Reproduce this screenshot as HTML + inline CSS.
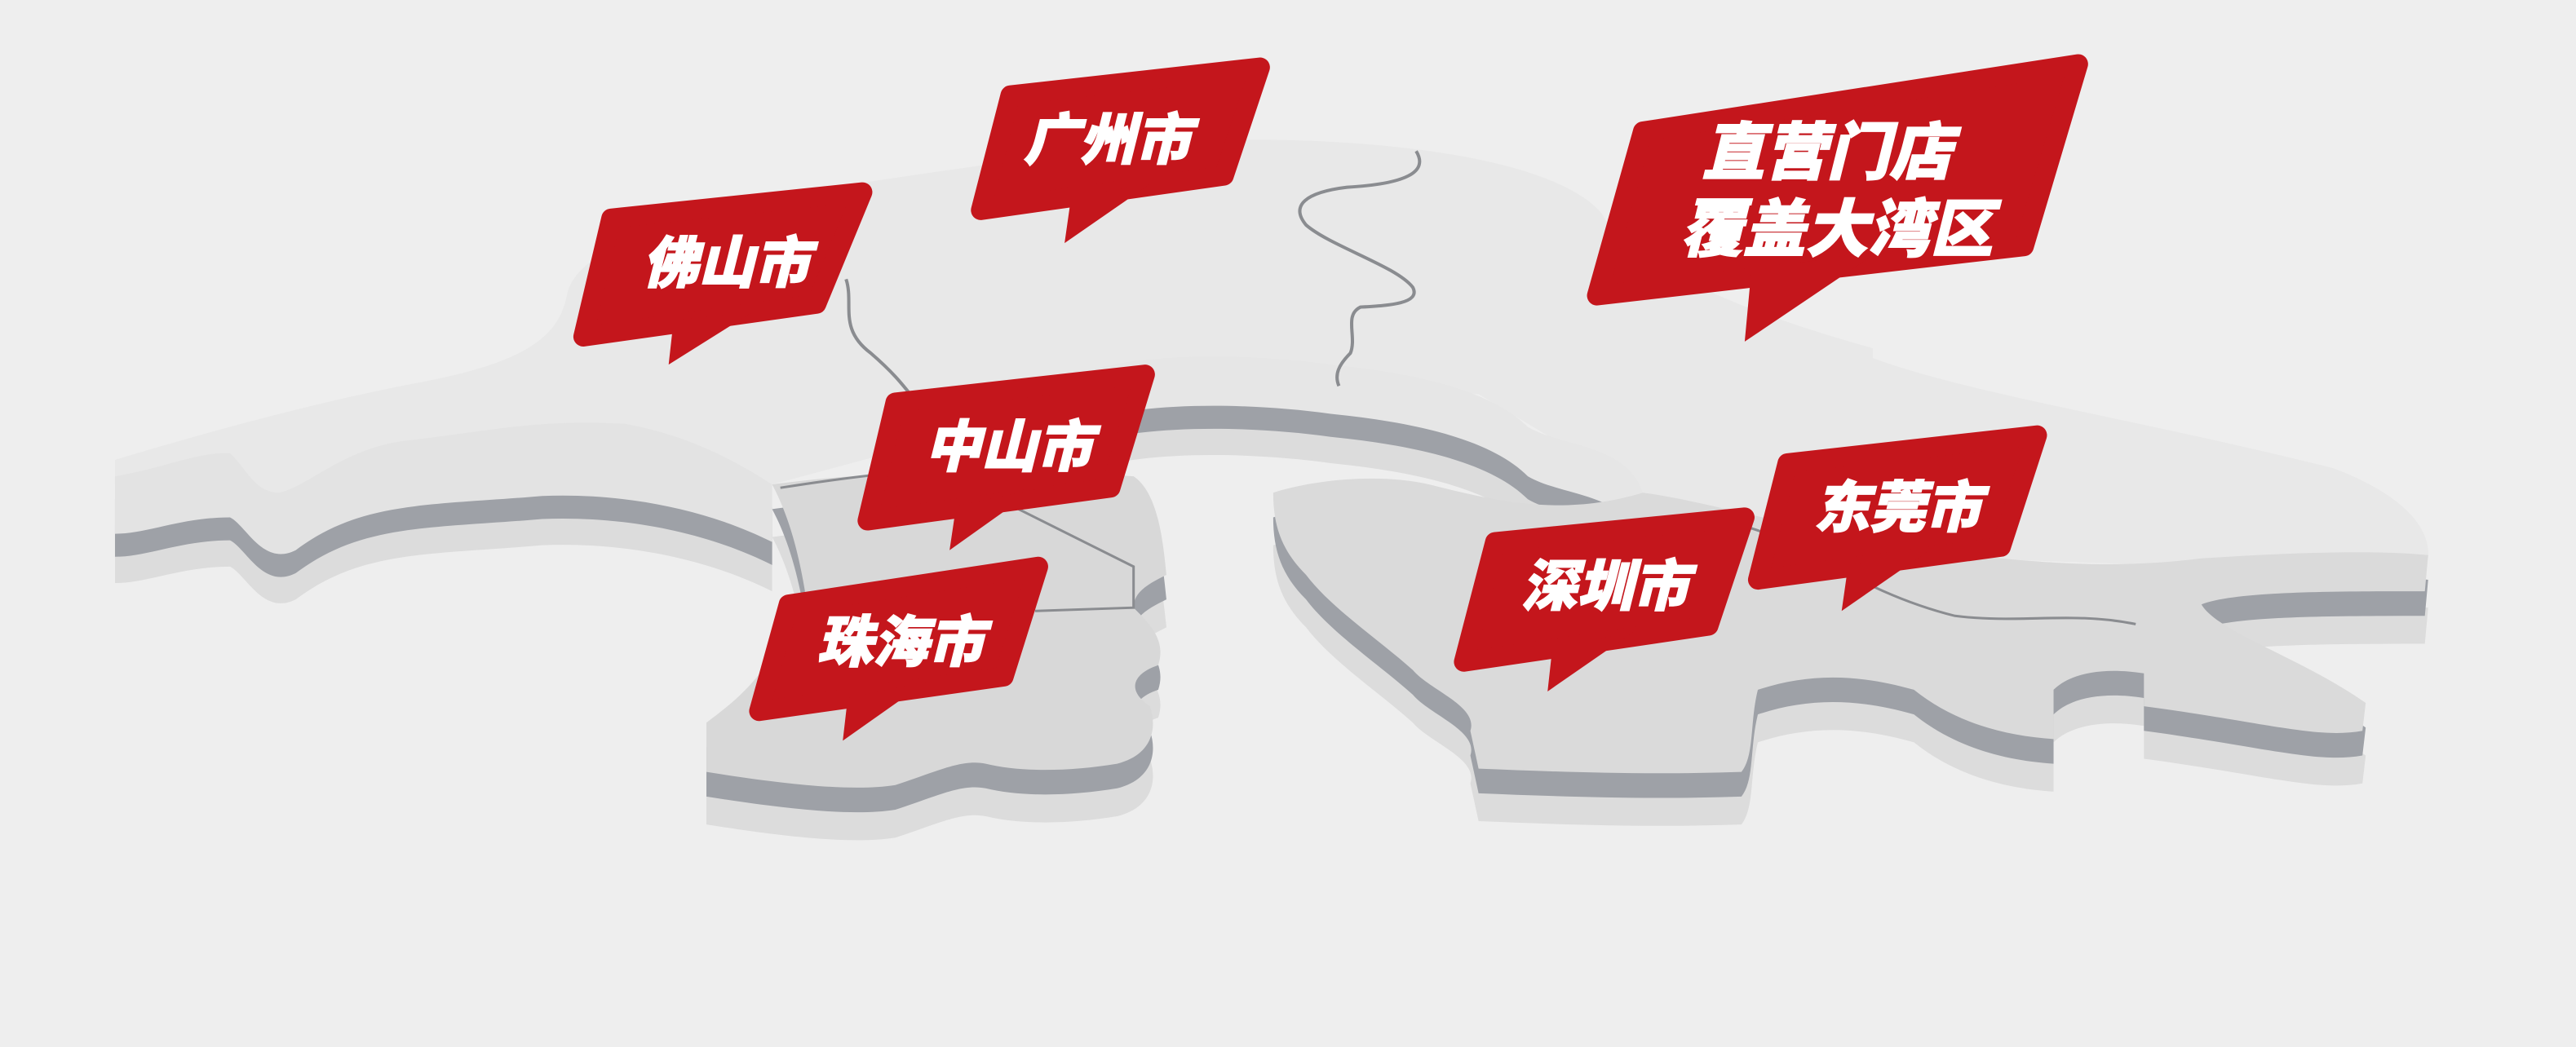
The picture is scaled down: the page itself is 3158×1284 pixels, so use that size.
<!DOCTYPE html>
<html><head><meta charset="utf-8"><style>
html,body{margin:0;padding:0;background:#eeeeee;}
svg{display:block;}
.t{font-family:"Liberation Sans","Noto Sans CJK SC",sans-serif;font-weight:900;fill:#fff;stroke:#fff;stroke-width:0.8;font-style:italic;}
</style></head><body>
<svg width="3158" height="1284" viewBox="0 0 1568 637.5" preserveAspectRatio="none" xmlns="http://www.w3.org/2000/svg">
<defs>
<path id="up" d="M70,280 C120,265 190,245 260,232 C320,220 340,205 345,180 C350,150 420,125 520,112 C600,100 680,88 760,85 C860,85 950,100 975,130 C990,160 1060,190 1140,212 L1140,218 C1200,240 1300,255 1420,285 C1460,300 1480,320 1478,340 L1340,345 L1200,340 L1050,320 L1000,300 L900,240 L700,225 L600,260 L470,295 C430,270 380,258 330,262 C260,270 220,268 180,300 C160,310 150,290 140,280 C110,280 90,295 70,295 Z"/>
<path id="left" d="M70,290 C100,285 120,275 140,276 C150,285 155,300 170,300 C190,295 210,272 250,268 C300,262 330,255 380,258 C420,265 450,282 470,295 L470,330 C430,310 380,300 330,302 C260,308 220,305 180,335 C160,345 150,320 140,315 C110,315 90,325 70,325 Z"/>
<path id="mid" d="M665,225 C700,215 760,215 810,222 C870,228 910,240 930,260 C950,272 990,270 1000,300 L1000,330 C990,300 950,302 930,290 C910,270 870,258 810,252 C760,245 700,245 665,255 Z"/>
<path id="zz" d="M470,295 C520,288 600,284 690,290 C705,300 708,330 710,350 C700,355 690,360 690,370 C700,380 710,390 705,405 C690,410 685,420 700,430 C705,445 700,460 680,465 C650,470 620,470 600,465 C585,462 570,470 545,478 C520,482 480,478 430,470 L430,440 C450,425 470,410 490,360 C485,330 478,310 470,295 Z"/>
<path id="sz" d="M775,300 C800,292 840,288 870,295 C910,305 950,315 1000,300 C1040,305 1100,325 1200,338 C1260,345 1300,345 1340,340 C1400,336 1450,335 1478,338 L1476,360 C1420,360 1360,360 1340,368 C1350,385 1400,400 1440,428 L1438,445 C1410,450 1380,440 1305,430 L1305,410 C1280,406 1260,410 1250,420 L1250,450 C1220,448 1190,440 1165,420 C1130,410 1100,410 1070,420 C1065,440 1068,460 1060,470 C1000,472 950,470 900,468 L895,445 C900,430 870,420 860,408 C840,390 810,370 795,350 C780,335 775,320 775,300 Z"/>
</defs>
<use href="#up" fill="#e8e8e8"/>
<g>
<use href="#left" fill="#dcdcdc" transform="translate(0,30)"/>
<use href="#left" fill="#9ea1a7" transform="translate(0,14)"/>
<use href="#left" fill="#e3e3e3"/>
<use href="#mid" fill="#dcdcdc" transform="translate(0,30)"/>
<use href="#mid" fill="#9ea1a7" transform="translate(0,14)"/>
<use href="#mid" fill="#e6e6e6"/>
<use href="#zz" fill="#dcdcdc" transform="translate(0,32)"/>
<use href="#zz" fill="#9ea1a7" transform="translate(0,15)"/>
<use href="#zz" fill="#d8d8d8"/>
<use href="#sz" fill="#dcdcdc" transform="translate(0,32)"/>
<use href="#sz" fill="#9ea1a7" transform="translate(0,15)"/>
<use href="#sz" fill="#dadada"/>
</g>
<g fill="none" stroke="#8a8c90" stroke-width="2">
<path d="M515,170 C520,185 510,200 530,215 C545,228 550,235 558,245"/>
<path d="M862,92 C870,105 855,112 820,114 C795,117 785,125 795,137 C810,150 850,162 860,175 C865,185 845,186 828,187 C818,192 826,205 822,215 C815,222 812,228 815,235"/>
<path d="M475,297 C520,290 560,285 600,285" stroke-width="1.5"/>
<path d="M620,310 L690,345 L690,370 L630,372" stroke-width="1.5"/>
<path d="M1060,320 C1100,330 1130,360 1190,375 C1230,380 1260,372 1300,380" stroke-width="1.5"/>
</g>
<g fill="#c4161c" stroke="#c4161c" stroke-width="12" stroke-linejoin="round">
<polygon points="615,58 767,41 745,107 597,128"/>
<polygon points="372,133 525,117 497,185 355,205"/>
<polygon points="545,245 697,228 676,297 528,317"/>
<polygon points="480,368 632,345 611,412 462,433"/>
<polygon points="910,330 1062,315 1040,381 891,403"/>
<polygon points="1088,282 1240,265 1218,333 1070,353"/>
<polygon points="1000,80 1265,39 1232,150 972,180"/>
</g>
<g fill="#c4161c">
<polygon points="652,120 648,148 700,112"/>
<polygon points="410,195 407,222 458,190"/>
<polygon points="582,308 578,335 630,298"/>
<polygon points="516,425 513,451 564,415"/>
<polygon points="945,394 942,421 994,385"/>
<polygon points="1125,344 1121,372 1173,336"/>
<polygon points="1066,165 1062,208 1145,152"/>
</g>
<g class="t" text-anchor="middle">
<text x="674" y="97" font-size="34">广州市</text>
<text x="442" y="172" font-size="34">佛山市</text>
<text x="614" y="284" font-size="34">中山市</text>
<text x="548" y="403" font-size="34">珠海市</text>
<text x="977" y="369" font-size="34">深圳市</text>
<text x="1155" y="321" font-size="34">东莞市</text>
<text x="1112" y="106" font-size="38">直营门店</text>
<text x="1118" y="153" font-size="38">覆盖大湾区</text>
</g>
</svg>
</body></html>
